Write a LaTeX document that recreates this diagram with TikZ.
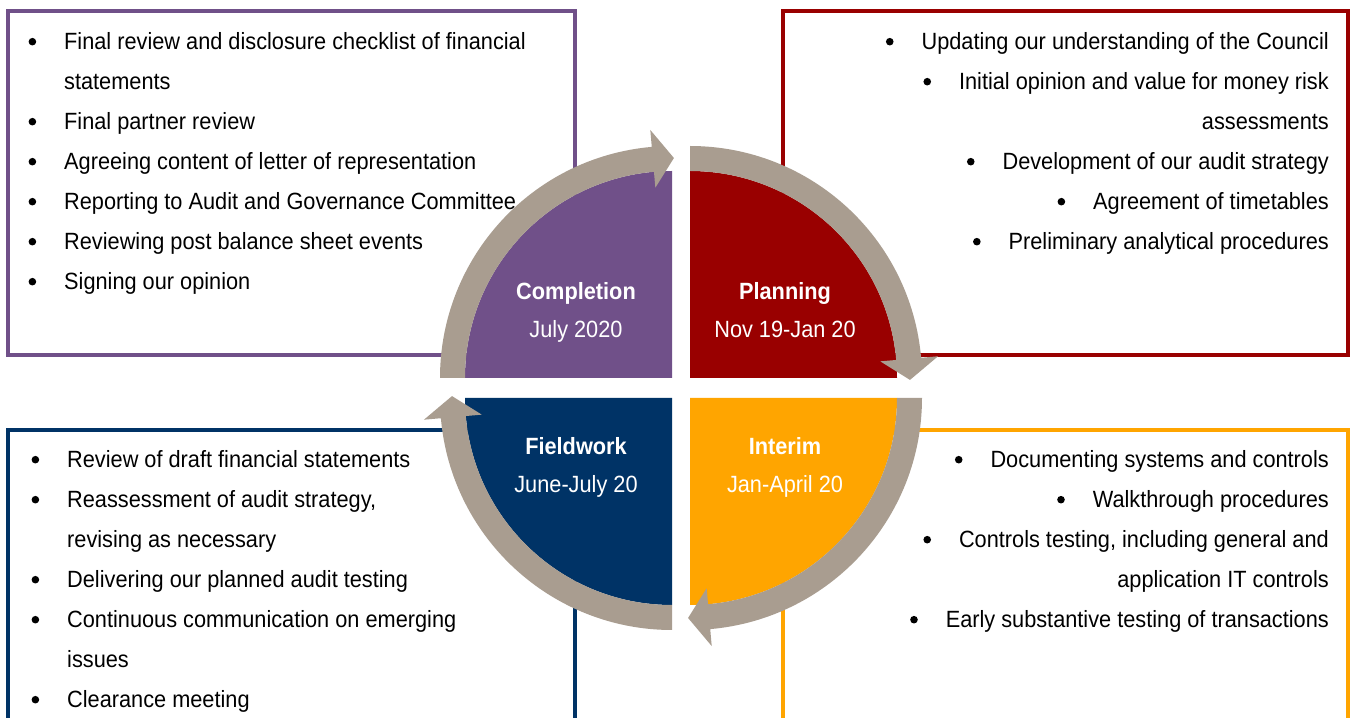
\documentclass[tikz,border=0pt]{standalone}
\usepackage{fontspec}
\setmainfont{Liberation Sans}[FakeStretch=0.925]
\definecolor{cpurple}{HTML}{705089}
\definecolor{cred}{HTML}{990000}
\definecolor{corange}{HTML}{FFA500}
\definecolor{cnavy}{HTML}{003366}
\definecolor{cband}{HTML}{A99D90}
\newcommand{\bdot}{\raisebox{4.5pt}{\tikz\fill[black] (0,0) circle[radius=3.8pt];}}
\newcommand{\bitem}{\makebox[0pt][r]{\bdot\hspace{28pt}}}
\newcommand{\cyclearrow}[3]{%
  \begin{scope}[shift={(#1)}]
    \fill[band] (#2:232) arc[start angle=#2,end angle=#3,radius=232]
      -- (#3:249) -- ({#3-5.5}:220) -- (#3:191) -- (#3:207)
      arc[start angle=#3,end angle=#2,radius=207] -- cycle;
  \end{scope}}
\tikzset{
  frame/.style={line width=4pt},
  band/.style={fill=cband},
  body/.style={inner sep=0pt, font=\fontsize{23.5}{40}\selectfont, text=black},
  lbody/.style={body, anchor=base west},
  rbody/.style={body, anchor=base east},
  qhead/.style={inner sep=0pt, anchor=base, text=white, font=\fontsize{23.5}{38}\selectfont\bfseries},
  qdate/.style={inner sep=0pt, anchor=base, text=white, font=\fontsize{23.5}{38}\selectfont},
}
\begin{document}
\begin{tikzpicture}[x=1pt,y=1pt]
\useasboundingbox (0,0) rectangle (1353,718);
\fill[white] (0,0) rectangle (1353,718);
\begin{scope}
\clip (0,0) rectangle (1353,718);
% boxes
\draw[frame, draw=cpurple] (8,363) rectangle (575,707);
\draw[frame, draw=cred] (783,363) rectangle (1348,707);
\draw[frame, draw=cnavy] (8,288) rectangle (575,-20);
\draw[frame, draw=corange] (783,288) rectangle (1348,-20);
\end{scope}
% centres
\coordinate (cTL) at (672,340);
\coordinate (cTR) at (690,340);
\coordinate (cBL) at (672,320);
\coordinate (cBR) at (690,320);
% quadrants
\fill[cpurple] (cTL) -- ++(-207,0) arc[start angle=180,end angle=90,radius=207] -- cycle;
\fill[cred] (cTR) -- ++(0,207) arc[start angle=90,end angle=0,radius=207] -- cycle;
\fill[corange] (cBR) -- ++(207,0) arc[start angle=0,end angle=-90,radius=207] -- cycle;
\fill[cnavy] (cBL) -- ++(0,-207) arc[start angle=270,end angle=180,radius=207] -- cycle;
% cycle arrows
\cyclearrow{cTL}{180}{95}
\cyclearrow{cTR}{90}{5}
\cyclearrow{cBR}{0}{-85}
\cyclearrow{cBL}{270}{185}
% quadrant labels
\node[qhead] (qc) at (576,418) {Completion};
\node[qdate] (qcd) at (576,380) {July 2020};
\node[qhead] (qp) at (785,418) {Planning};
\node[qdate] (qpd) at (785,380) {Nov 19-Jan 20};
\node[qhead] (qf) at (576,263) {Fieldwork};
\node[qdate] (qfd) at (576,225) {June-July 20};
\node[qhead] (qi) at (785,263) {Interim};
\node[qdate] (qid) at (785,225) {Jan-April 20};
% completion list
\node[lbody] (c1) at (64,668) {\bitem Final review and disclosure checklist of financial};
\node[lbody] (c1b) at (64,628) {statements};
\node[lbody] (c2) at (64,588) {\bitem Final partner review};
\node[lbody] (c3) at (64,548) {\bitem Agreeing content of letter of representation};
\node[lbody] (c4) at (64,508) {\bitem Reporting to Audit and Governance Committee};
\node[lbody] (c5) at (64,468) {\bitem Reviewing post balance sheet events};
\node[lbody] (c6) at (64,428) {\bitem Signing our opinion};
% planning list
\node[rbody] (p1) at (1329,668) {\bitem Updating our understanding of the Council};
\node[rbody] (p2) at (1329,628) {\bitem Initial opinion and value for money risk};
\node[rbody] (p2b) at (1329,588) {assessments};
\node[rbody] (p3) at (1329,548) {\bitem Development of our audit strategy};
\node[rbody] (p4) at (1329,508) {\bitem Agreement of timetables};
\node[rbody] (p5) at (1329,468) {\bitem Preliminary analytical procedures};
% fieldwork list
\node[lbody] (f1) at (67,250) {\bitem Review of draft financial statements};
\node[lbody] (f2) at (67,210) {\bitem Reassessment of audit strategy,};
\node[lbody] (f2b) at (67,170) {revising as necessary};
\node[lbody] (f3) at (67,130) {\bitem Delivering our planned audit testing};
\node[lbody] (f4) at (67,90) {\bitem Continuous communication on emerging};
\node[lbody] (f4b) at (67,50) {issues};
\node[lbody] (f5) at (67,10) {\bitem Clearance meeting};
% interim list
\node[rbody] (i1) at (1329,250) {\bitem Documenting systems and controls};
\node[rbody] (i2) at (1329,210) {\bitem Walkthrough procedures};
\node[rbody] (i3) at (1329,170) {\bitem Controls testing, including general and};
\node[rbody] (i3b) at (1329,130) {application IT controls};
\node[rbody] (i4) at (1329,90) {\bitem Early substantive testing of transactions};
\end{tikzpicture}
\end{document}
